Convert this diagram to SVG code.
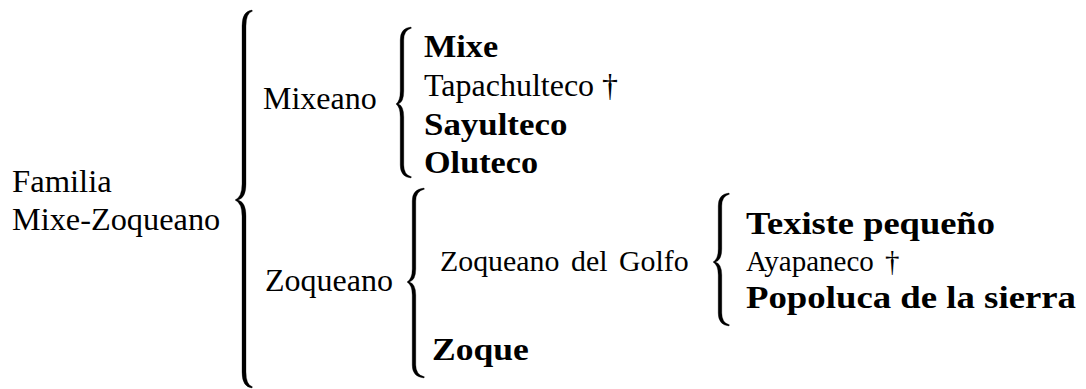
<svg xmlns="http://www.w3.org/2000/svg" width="1086" height="389" viewBox="0 0 1086 389">
  <rect width="1086" height="389" fill="#fff"/>

  <!-- curly braces joining each group to its members -->
  <g id="connectors" fill="#000" stroke="#000" stroke-width="0.3" stroke-linejoin="round">
    <path d="M252,10 Q242,11 242,26 L242,184 Q242,197 235,200 Q242,203 242,216 L242,372 Q242,387 252,388 L252.4,386.8 Q246,385 246,372 L246,216 Q246,202 238,200 Q246,198 246,184 L246,26 Q246,13 252.4,11.2 Z"/>
    <path d="M411,27 Q400.2,28 400.2,40 L400.2,91 Q400.2,101 396,104 Q400.2,107 400.2,117 L400.2,165 Q400.2,177 411,178 L411.4,176.8 Q403.8,175 403.8,165 L403.8,117 Q403.8,106 398.5,104 Q403.8,102 403.8,91 L403.8,40 Q403.8,30 411.4,28.2 Z"/>
    <path d="M424,188 Q412.2,189 412.2,201 L412.2,269 Q412.2,279 407,282 Q412.2,285 412.2,295 L412.2,365 Q412.2,377 424,378 L424.4,376.8 Q415.8,375 415.8,365 L415.8,295 Q415.8,284 409.5,282 Q415.8,280 415.8,269 L415.8,201 Q415.8,191 424.4,189.2 Z"/>
    <path d="M729,193 Q718.2,194 718.2,206 L718.2,249 Q718.2,259 713,262 Q718.2,265 718.2,275 L718.2,313 Q718.2,325 729,326 L729.4,324.8 Q721.8,323 721.8,313 L721.8,275 Q721.8,264 715.5,262 Q721.8,260 721.8,249 L721.8,206 Q721.8,196 729.4,194.2 Z"/>
  </g>

  <g id="familia">
    <text font-family="Times New Roman, serif" font-size="32" transform="translate(12,192) scale(1.02,1)">Familia</text>
    <text font-family="Times New Roman, serif" font-size="32" transform="translate(12,230) scale(1.01,1)">Mixe-Zoqueano</text>
  </g>

  <g id="mixeano"><text font-family="Times New Roman, serif" font-size="32" x="263" y="109">Mixeano</text></g>
  <g id="zoqueano"><text font-family="Times New Roman, serif" font-size="32" x="265" y="291">Zoqueano</text></g>

  <g id="mixe"><text font-family="Times New Roman, serif" font-size="32" font-weight="bold" transform="translate(424,57) scale(1.07,1)">Mixe</text></g>
  <g id="tapachulteco"><text font-family="Times New Roman, serif" font-size="32" x="424" y="96">Tapachulteco †</text></g>
  <g id="sayulteco"><text font-family="Times New Roman, serif" font-size="32" font-weight="bold" transform="translate(424,135) scale(1.09,1)">Sayulteco</text></g>
  <g id="oluteco"><text font-family="Times New Roman, serif" font-size="32" font-weight="bold" transform="translate(424,173) scale(1.07,1)">Oluteco</text></g>

  <g id="zoqueano-golfo"><text font-family="Times New Roman, serif" font-size="29" word-spacing="4" transform="translate(440,271) scale(1.03,1)">Zoqueano del Golfo</text></g>
  <g id="zoque"><text font-family="Times New Roman, serif" font-size="32" font-weight="bold" transform="translate(432,360) scale(1.11,1)">Zoque</text></g>

  <g id="texiste"><text font-family="Times New Roman, serif" font-size="32" font-weight="bold" transform="translate(746,234) scale(1.14,1)">Texiste pequeño</text></g>
  <g id="ayapaneco"><text font-family="Times New Roman, serif" font-size="29" word-spacing="4" x="746" y="271">Ayapaneco †</text></g>
  <g id="popoluca"><text font-family="Times New Roman, serif" font-size="32" font-weight="bold" transform="translate(746,308) scale(1.15,1)">Popoluca de la sierra</text></g>
</svg>
